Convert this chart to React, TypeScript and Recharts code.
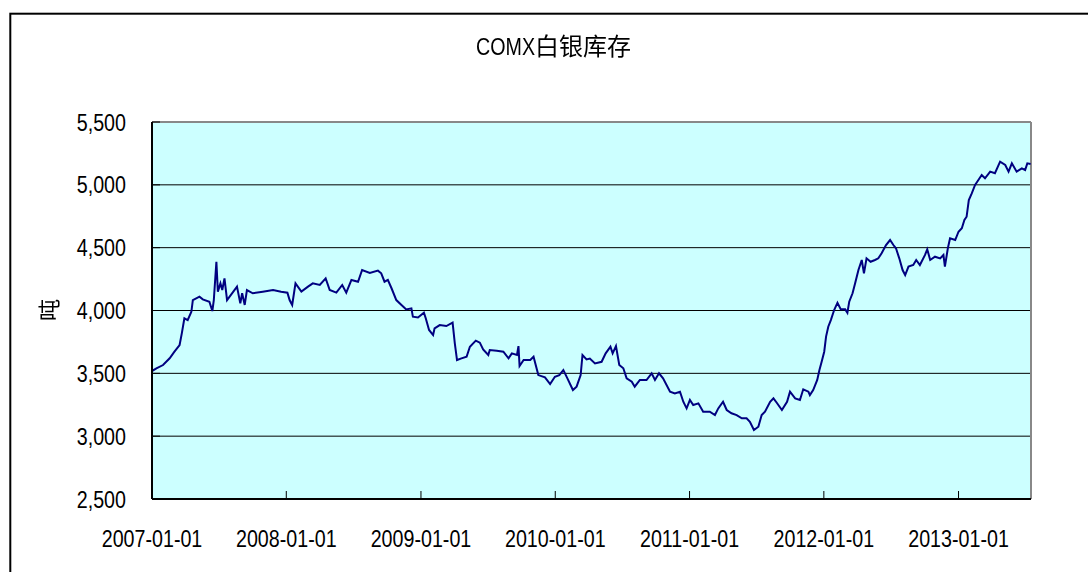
import React from 'react';
import { LineChart, Line, XAxis, YAxis, CartesianGrid, ReferenceLine } from 'recharts';

const titleLatin = 'COMX';
const titleCjk = '白银库存';
const yLabel = '吨';

const dates: string[] = [
  '2007-01-02','2007-01-13','2007-01-31','2007-02-18','2007-03-03','2007-03-17','2007-03-23','2007-03-30','2007-04-08','2007-04-18',
  '2007-04-22','2007-05-10','2007-05-19','2007-06-06','2007-06-14','2007-06-18','2007-06-25','2007-06-29','2007-07-06','2007-07-11',
  '2007-07-17','2007-07-24','2007-07-31','2007-08-20','2007-08-29','2007-09-03','2007-09-10','2007-09-16','2007-10-02','2007-10-29',
  '2007-11-26','2007-12-18','2008-01-04','2008-01-10','2008-01-17','2008-01-26','2008-02-11','2008-02-29','2008-03-13','2008-04-01',
  '2008-04-17','2008-04-28','2008-05-16','2008-06-01','2008-06-12','2008-06-26','2008-07-14','2008-07-25','2008-08-15','2008-09-06',
  '2008-09-15','2008-09-24','2008-10-03','2008-10-13','2008-10-26','2008-11-09','2008-11-22','2008-12-06','2008-12-10','2008-12-24',
  '2009-01-09','2009-01-14','2009-01-23','2009-02-03','2009-02-07','2009-02-21','2009-03-11','2009-03-28','2009-04-03','2009-04-09',
  '2009-04-21','2009-05-05','2009-05-14','2009-05-30','2009-06-10','2009-06-19','2009-07-03','2009-07-07','2009-07-26','2009-08-13',
  '2009-08-27','2009-09-05','2009-09-19','2009-09-23','2009-09-26','2009-10-07','2009-10-25','2009-11-03','2009-11-16','2009-12-04',
  '2009-12-18','2009-12-31','2010-01-12','2010-01-23','2010-02-03','2010-02-18','2010-02-28','2010-03-11','2010-03-16','2010-03-27',
  '2010-04-05','2010-04-19','2010-05-07','2010-05-18','2010-05-31','2010-06-06','2010-06-15','2010-06-24','2010-07-05','2010-07-14',
  '2010-07-28','2010-08-05','2010-08-19','2010-09-06','2010-09-20','2010-09-29','2010-10-10','2010-10-21','2010-11-09','2010-11-22',
  '2010-12-06','2010-12-15','2010-12-24','2011-01-02','2011-01-11','2011-01-25','2011-02-07','2011-02-25','2011-03-11','2011-03-20',
  '2011-04-02','2011-04-12','2011-04-25','2011-05-09','2011-05-23','2011-06-05','2011-06-14','2011-06-25','2011-07-07','2011-07-16',
  '2011-07-25','2011-08-08','2011-08-17','2011-08-26','2011-09-09','2011-09-23','2011-10-01','2011-10-15','2011-10-28','2011-11-06',
  '2011-11-20','2011-11-24','2011-12-03','2011-12-14','2011-12-20','2011-12-26','2012-01-02','2012-01-07','2012-01-13','2012-01-20',
  '2012-01-29','2012-02-07','2012-02-16','2012-02-28','2012-03-05','2012-03-10','2012-03-19','2012-03-26','2012-04-04','2012-04-13',
  '2012-04-19','2012-04-26','2012-05-07','2012-05-19','2012-05-28','2012-06-06','2012-06-18','2012-06-29','2012-07-08','2012-07-15',
  '2012-07-24','2012-08-02','2012-08-09','2012-08-18','2012-08-31','2012-09-08','2012-09-18','2012-10-02','2012-10-08','2012-10-16',
  '2012-10-29','2012-11-12','2012-11-21','2012-11-25','2012-12-03','2012-12-09','2012-12-23','2013-01-01','2013-01-10','2013-01-17',
  '2013-01-23','2013-01-29','2013-02-06','2013-02-15','2013-02-24','2013-03-05','2013-03-14','2013-03-28','2013-04-10','2013-04-24',
  '2013-05-08','2013-05-17','2013-05-26','2013-06-08','2013-06-22','2013-07-01','2013-07-07','2013-07-16',
];

const inventory: number[] = [
  3520,3540,3566,3620,3672,3725,3818,3938,3924,3990,
  4083,4110,4089,4070,3996,4083,4388,4150,4216,4163,
  4256,4083,4110,4190,4057,4137,4044,4163,4137,4150,
  4163,4150,4142,4083,4044,4216,4150,4190,4216,4203,
  4256,4163,4142,4203,4142,4243,4229,4322,4298,4317,
  4296,4229,4243,4177,4083,4044,4009,4017,3951,3945,
  3982,3938,3845,3805,3858,3884,3876,3903,3739,3606,
  3619,3632,3712,3760,3744,3691,3646,3686,3680,3672,
  3619,3659,3646,3717,3558,3606,3606,3632,3486,3468,
  3415,3473,3486,3526,3460,3367,3394,3486,3646,3611,
  3618,3579,3592,3659,3712,3659,3717,3566,3540,3460,
  3433,3394,3447,3447,3500,3447,3500,3460,3354,3340,
  3354,3274,3221,3288,3248,3261,3195,3195,3168,3221,
  3274,3208,3182,3168,3142,3142,3115,3049,3075,3168,
  3195,3274,3301,3266,3208,3274,3354,3301,3288,3373,
  3354,3327,3367,3447,3526,3592,3672,3792,3871,3924,
  4004,4062,4009,4009,3982,4070,4137,4216,4322,4402,
  4296,4415,4388,4402,4415,4455,4521,4561,4521,4495,
  4415,4322,4282,4349,4362,4402,4362,4442,4487,4402,
  4428,4415,4442,4349,4495,4574,4561,4627,4654,4720,
  4746,4879,4932,4999,5038,5078,5052,5105,5092,5184,
  5158,5105,5171,5105,5131,5118,5171,5166,
];

const xTickDates: string[] = ['2007-01-01','2008-01-01','2009-01-01','2010-01-01','2011-01-01','2012-01-01','2013-01-01'];
const yTicks: number[] = [2500, 3000, 3500, 4000, 4500, 5000, 5500];
const xStart = '2007-01-01';
const xEnd = '2013-07-17';

const toTime = (d: string) => Date.parse(d + 'T00:00:00Z');
const data = dates.map((d, i) => ({ t: toTime(d), v: inventory[i] }));

const LATIN = "'Liberation Sans', Arial, sans-serif";
const CJK = "'Noto Sans CJK SC', sans-serif";

const pad = (n: number) => (n < 10 ? '0' + n : '' + n);
const fmtDate = (t: number) => {
  const d = new Date(t);
  return `${d.getUTCFullYear()}-${pad(d.getUTCMonth() + 1)}-${pad(d.getUTCDate())}`;
};

const NarrowText = ({ x, y, anchor, children }: { x: number; y: number; anchor: 'start' | 'middle' | 'end'; children: React.ReactNode }) => (
  <text
    transform={`translate(${x},${y}) scale(0.82,1)`}
    x={0}
    y={0}
    textAnchor={anchor}
    fontSize={24}
    fontFamily={LATIN}
    fill="#000"
  >
    {children}
  </text>
);

const XTick = (props: any) => {
  const { x, y, payload } = props;
  return (
    <g>
      <line x1={x} y1={y} x2={x} y2={y - 8} stroke="#000" strokeWidth={1} />
      <NarrowText x={x} y={y + 47.5} anchor="middle">
        {fmtDate(payload.value)}
      </NarrowText>
    </g>
  );
};

const YTick = (props: any) => {
  const { x, y, payload } = props;
  return (
    <g>
      <line x1={x} y1={y} x2={x + 8} y2={y} stroke="#000" strokeWidth={1} />
      <NarrowText x={x - 26} y={y + 8.5} anchor="end">
        {Number(payload.value).toLocaleString('en-US')}
      </NarrowText>
    </g>
  );
};

export default function App() {
  return (
    <div style={{ position: 'relative', width: 1072, height: 556 }}>
      <svg
        width={1088}
        height={572}
        style={{ position: 'fixed', left: 0, top: 0, pointerEvents: 'none', zIndex: 2 }}
      >
        <rect x={10.3} y={13.7} width={2000} height={2000} fill="none" stroke="#000" strokeWidth={2} />
        <NarrowText x={476} y={55} anchor="start">
          {titleLatin}
        </NarrowText>
        <text x={535} y={55} textAnchor="start" fontSize={24} fontFamily={CJK} fill="#000">
          {titleCjk}
        </text>
        <text
          x={47}
          y={310}
          textAnchor="middle"
          dominantBaseline="central"
          fontSize={22}
          fontFamily={CJK}
          fill="#000"
          transform="rotate(-90, 47, 310)"
        >
          {yLabel}
        </text>
      </svg>
      <LineChart
        width={1072}
        height={556}
        data={data}
        margin={{ top: 114, right: 49, bottom: 25, left: 84 }}
      >
        <CartesianGrid
          vertical={false}
          horizontal={true}
          horizontalValues={[3000, 3500, 4000, 4500, 5000]}
          stroke="#000"
          strokeWidth={1}
          fill="#CCFFFF"
          fillOpacity={1}
        />
        <XAxis
          type="number"
          dataKey="t"
          domain={[toTime(xStart), toTime(xEnd)]}
          ticks={xTickDates.map(toTime)}
          allowDataOverflow
          height={40}
          tickSize={0}
          tickMargin={0}
          tickLine={false}
          tick={<XTick />}
          axisLine={{ stroke: '#000', strokeWidth: 2 }}
          interval={0}
        />
        <YAxis
          type="number"
          domain={[2500, 5500]}
          ticks={yTicks}
          width={60}
          tickSize={0}
          tickMargin={0}
          tickLine={false}
          tick={<YTick />}
          axisLine={{ stroke: '#000', strokeWidth: 2 }}
          interval={0}
        />
        <ReferenceLine y={5500} stroke="#888" strokeWidth={2} />
        <ReferenceLine x={toTime(xEnd)} stroke="#888" strokeWidth={2} />
        <Line
          type="linear"
          dataKey="v"
          stroke="#000080"
          strokeWidth={2}
          dot={false}
          isAnimationActive={false}
        />
      </LineChart>
    </div>
  );
}
